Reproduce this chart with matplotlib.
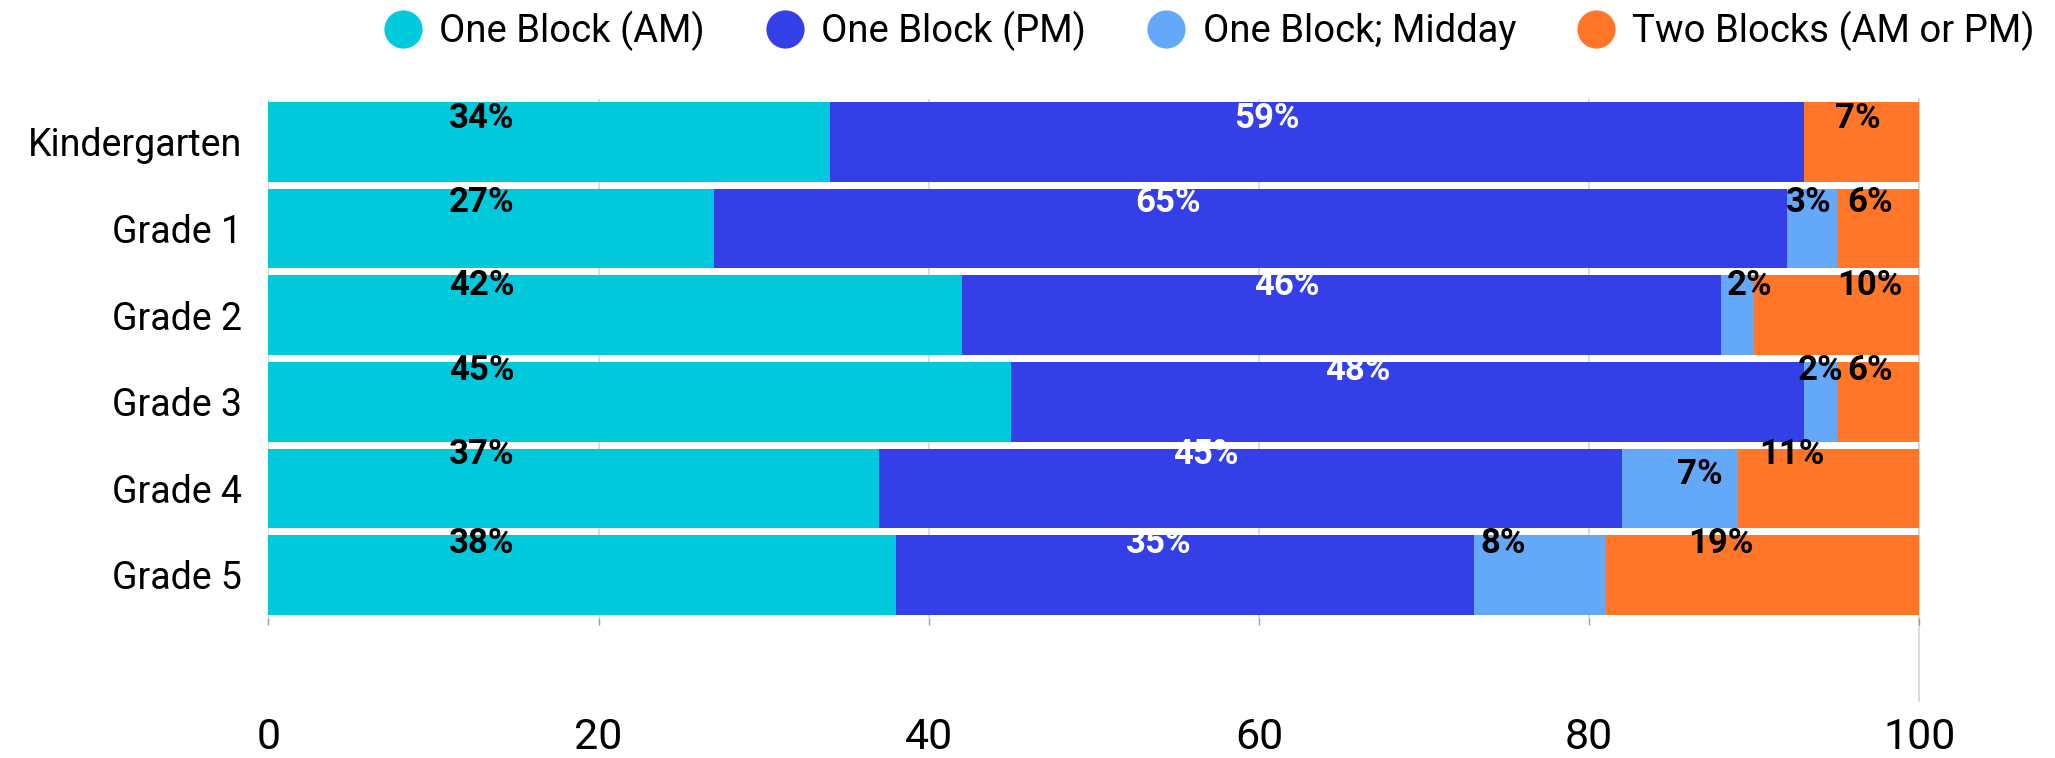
import matplotlib
matplotlib.use("Agg")
import matplotlib.pyplot as plt
from matplotlib.lines import Line2D
from matplotlib.transforms import offset_copy

plt.rcParams['font.family'] = ['Roboto', 'DejaVu Sans']

# --- data -----------------------------------------------------------------
categories = ["Kindergarten", "Grade 1", "Grade 2", "Grade 3", "Grade 4", "Grade 5"]
series_names = ["One Block (AM)", "One Block (PM)", "One Block; Midday", "Two Blocks (AM or PM)"]
one_block_am = [34, 27, 42, 45, 37, 38]
one_block_pm = [59, 65, 46, 48, 45, 35]
one_block_midday = [0, 3, 2, 2, 7, 8]
two_blocks = [7, 6, 10, 6, 11, 19]
x_ticks = [0, 20, 40, 60, 80, 100]

# --- label placement (x in axis units, rise above the bar centre in rows) --
am_label_x = [12.9, 12.9, 12.9, 12.9, 12.9, 12.9]
pm_label_x = [60.5, 54.5, 61.7, 66.0, 56.8, 53.9]
mid_label_x = [None, 93.3, 89.7, 94.0, 86.7, 74.8]
two_label_x = [96.3, 97.0, 97.0, 97.0, 92.3, 88.0]
label_rise = [0.30, 0.33, 0.37, 0.39, 0.42, 0.40]
mid_label_rise = [0.30, 0.33, 0.37, 0.39, 0.19, 0.40]

colors = ["#00C9DB", "#343FE8", "#64A8FA", "#FF7629"]
text_colors = ["black", "white", "black", "black"]

fig = plt.figure(figsize=(20.55, 7.58), dpi=100)
ax = fig.add_axes([0.1306, 0.1843, 0.8034, 0.6855])

rows = list(range(len(categories)))
series = [one_block_am, one_block_pm, one_block_midday, two_blocks]
label_xs = [am_label_x, pm_label_x, mid_label_x, two_label_x]
rises = [label_rise, label_rise, mid_label_rise, label_rise]

left = [0] * len(categories)
for vals, col in zip(series, colors):
    ax.barh(rows, vals, left=left, height=0.92, color=col, zorder=2, linewidth=0)
    left = [l + v for l, v in zip(left, vals)]

# value labels, drawn from the same values as the bars
txt_tr = offset_copy(ax.transData, fig=fig, y=-8.8, units='points')
for vals, xs, rs, tc in zip(series, label_xs, rises, text_colors):
    for i, v in enumerate(vals):
        if v <= 0 or xs[i] is None:
            continue
        ax.text(xs[i], i - rs[i], f"{v}%", transform=txt_tr, ha='center', va='baseline',
                fontsize=25, fontweight='bold', color=tc, zorder=4)

ax.set_xlim(0, 100)
ax.set_ylim(len(categories) - 0.5, -0.5)
ax.set_xticks(x_ticks)
ax.set_xticklabels([str(t) for t in x_ticks])
ax.set_yticks(rows)
ax.set_yticklabels(categories)

for s in ax.spines.values():
    s.set_visible(False)

ax.set_axisbelow(True)
ax.xaxis.grid(True, color='#d4d4d4', linewidth=1.2, zorder=0)
ax.axvline(100, ymin=-0.16, ymax=1, color='#d4d4d4', linewidth=1.2, clip_on=False, zorder=0)

ax.tick_params(axis='x', length=5, width=1, color='#9a9a9a', labelsize=31, pad=66)
ax.tick_params(axis='y', length=0, labelsize=27, pad=19)

handles = [Line2D([], [], marker='o', linestyle='', markersize=27.5,
                  markerfacecolor=c, markeredgewidth=0) for c in colors]
fig.legend(handles, series_names, loc='center right',
           bbox_to_anchor=(2035 / 2055, 1 - 31 / 758), ncol=4, frameon=False,
           fontsize=27.5, handlelength=1.0, handletextpad=0.45, columnspacing=1.6,
           borderpad=0, borderaxespad=0)

fig.savefig("out.png", dpi=100)
